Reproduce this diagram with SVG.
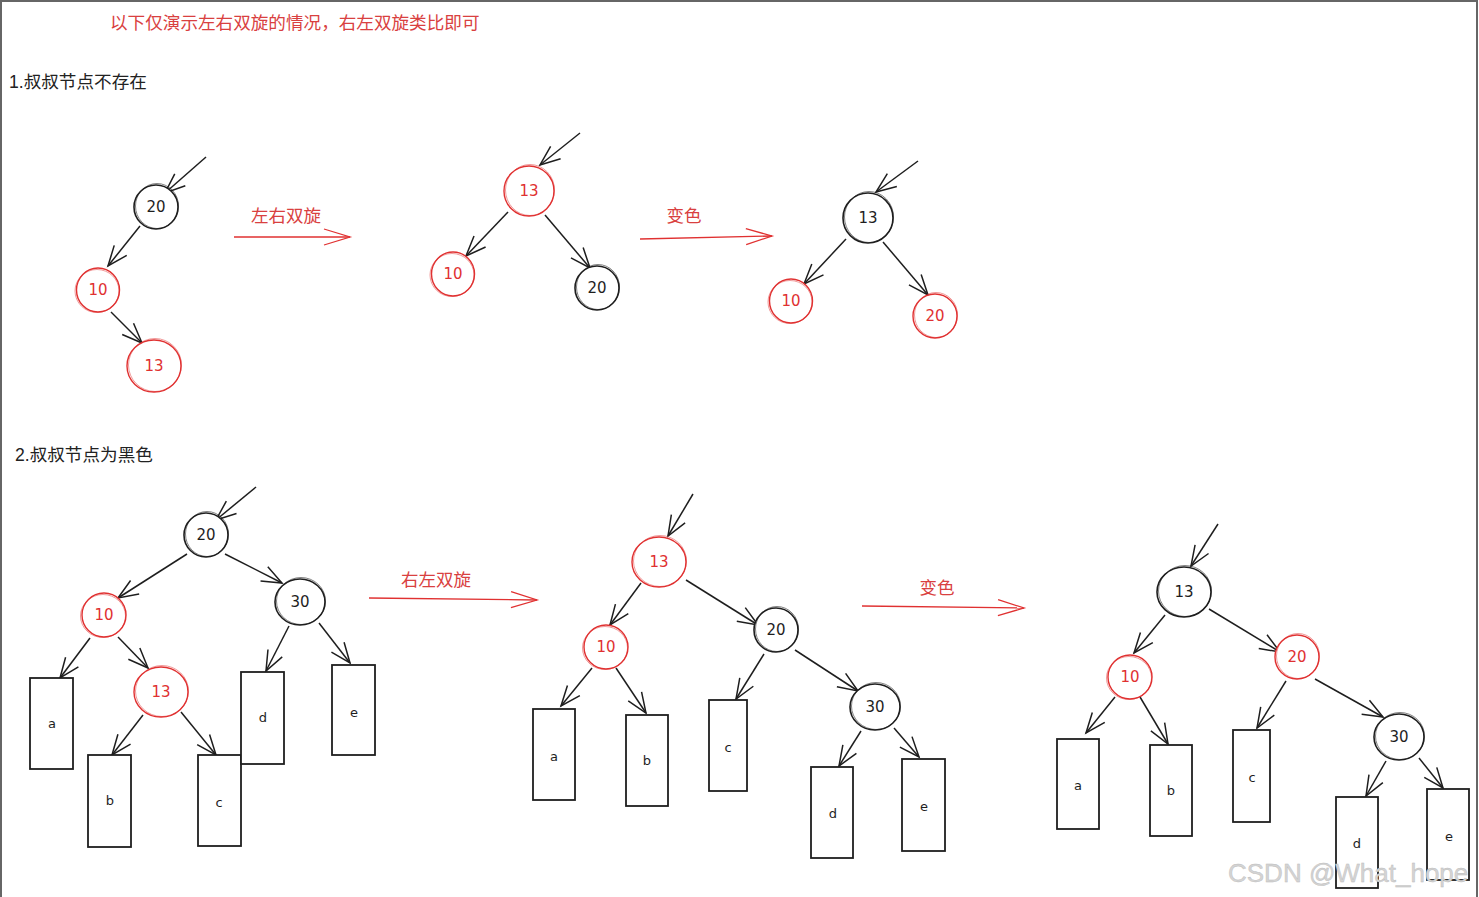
<svg xmlns="http://www.w3.org/2000/svg" width="1479" height="897" viewBox="0 0 1479 897">
<style>
.bg{fill:#ffffff}
.frame{fill:none;stroke:#666;stroke-width:2}
.title-red{font-family:"Liberation Sans","Noto Sans CJK SC",sans-serif;font-size:17.6px;fill:#d94040}
.title{font-family:"Liberation Sans","Noto Sans CJK SC",sans-serif;font-size:17.6px;fill:#222}
.lbl{font-family:"Liberation Sans","Noto Sans CJK SC",sans-serif;font-size:17.5px;fill:#d94040;text-anchor:middle}
.nb{fill:#fff;stroke:#1e1e1e;stroke-width:1.6}
.nb2{fill:none;stroke:#1e1e1e;stroke-width:0.8;opacity:.7}
.nr{fill:#fff;stroke:#e03131;stroke-width:1.4}
.nr2{fill:none;stroke:#e03131;stroke-width:0.7;opacity:.7}
.tb{font-family:"DejaVu Sans",sans-serif;font-size:15px;fill:#1e1e1e;text-anchor:middle;dominant-baseline:central}
.tr{font-family:"DejaVu Sans",sans-serif;font-size:15px;fill:#e03131;text-anchor:middle;dominant-baseline:central}
.box{fill:#fff;stroke:#1e1e1e;stroke-width:1.8}
.bt{font-family:"DejaVu Sans",sans-serif;font-size:13px;fill:#1e1e1e;text-anchor:middle;dominant-baseline:central}
.e{fill:none;stroke:#1e1e1e;stroke-width:1.5;marker-end:url(#ah)}
.re{fill:none;stroke:#e03131;stroke-width:1.3;marker-end:url(#rah)}
.wm{font-family:"Liberation Sans",sans-serif;font-size:26px;fill:#d4d4d4;stroke:#bbb;stroke-width:0.4}
</style>
<defs>
<marker id="ah" viewBox="-24 -12 28 24" refX="0" refY="0" markerWidth="28" markerHeight="24" markerUnits="userSpaceOnUse" orient="auto">
<path d="M-20,-8 L0,0 L-20,8" fill="none" stroke="#1e1e1e" stroke-width="1.5"/>
</marker>
<marker id="rah" viewBox="-30 -12 34 24" refX="0" refY="0" markerWidth="34" markerHeight="24" markerUnits="userSpaceOnUse" orient="auto">
<path d="M-26,-8 L0,0 L-26,8" fill="none" stroke="#e03131" stroke-width="1.3"/>
</marker>
</defs>
<rect class="bg" x="0" y="0" width="1479" height="897"/>
<path class="frame" d="M1,897 V1 H1477 V897"/>

<g id="titles">
<text class="title-red" x="110" y="29">以下仅演示左右双旋的情况，右左双旋类比即可</text>
<text class="title" x="9" y="88">1.叔叔节点不存在</text>
<text class="title" x="15" y="461">2.叔叔节点为黑色</text>
</g>

<g id="connectors">
<path class="e" d="M206,157 L165,193"/>
<path class="e" d="M140,226 L108,266"/>
<path class="e" d="M111,312 L142,343"/>
<path class="re" d="M234,237 L350,237"/>
<path class="e" d="M580,133 L540,165"/>
<path class="e" d="M508,212 L466,256"/>
<path class="e" d="M545,215 L590,268"/>
<path class="re" d="M640,239 L772,236"/>
<path class="e" d="M918,161 L876,192"/>
<path class="e" d="M846,239 L804,284"/>
<path class="e" d="M883,242 L928,295"/>
<path class="e" d="M256,487 L216,520"/>
<path class="e" d="M187,554 L118,598"/>
<path class="e" d="M225,554 L282,583"/>
<path class="e" d="M90,638 L60,678"/>
<path class="e" d="M118,637 L148,668"/>
<path class="e" d="M143,715 L112,755"/>
<path class="e" d="M181,712 L216,755"/>
<path class="e" d="M289,626 L266,671"/>
<path class="e" d="M319,623 L350,663"/>
<path class="re" d="M369,598 L537,600"/>
<path class="e" d="M693,494 L668,536"/>
<path class="e" d="M641,583 L610,625"/>
<path class="e" d="M686,580 L758,625"/>
<path class="e" d="M592,668 L561,706"/>
<path class="e" d="M616,668 L646,713"/>
<path class="e" d="M764,654 L736,699"/>
<path class="e" d="M795,650 L858,691"/>
<path class="e" d="M861,731 L839,766"/>
<path class="e" d="M894,728 L919,757"/>
<path class="re" d="M862,606 L1024,608"/>
<path class="e" d="M1218,524 L1191,566"/>
<path class="e" d="M1165,615 L1134,653"/>
<path class="e" d="M1209,609 L1280,652"/>
<path class="e" d="M1115,697 L1086,733"/>
<path class="e" d="M1140,697 L1168,744"/>
<path class="e" d="M1286,681 L1257,728"/>
<path class="e" d="M1315,679 L1383,717"/>
<path class="e" d="M1386,761 L1366,796"/>
<path class="e" d="M1419,758 L1443,788"/>
</g>

<g id="transition-labels">
<text class="lbl" x="286" y="222">左右双旋</text>
<text class="lbl" x="684" y="222">变色</text>
<text class="lbl" x="436" y="586">右左双旋</text>
<text class="lbl" x="937" y="594">变色</text>
</g>

<g id="A20"><ellipse class="nb" cx="156" cy="207" rx="22" ry="22"/><ellipse class="nb2" cx="157" cy="206" rx="21.5" ry="22.5"/><text class="tb" x="156" y="207">20</text></g>
<g id="A10"><ellipse class="nr" cx="98" cy="290" rx="21.5" ry="22"/><ellipse class="nr2" cx="97" cy="291" rx="22" ry="21.5"/><text class="tr" x="98" y="290">10</text></g>
<g id="A13"><ellipse class="nr" cx="154" cy="366" rx="27" ry="26"/><ellipse class="nr2" cx="155" cy="365" rx="26.5" ry="26.5"/><text class="tr" x="154" y="366">13</text></g>

<g id="B13"><ellipse class="nr" cx="529" cy="191" rx="25" ry="25"/><ellipse class="nr2" cx="530" cy="190" rx="24.5" ry="25.5"/><text class="tr" x="529" y="191">13</text></g>
<g id="B10"><ellipse class="nr" cx="453" cy="274" rx="21.5" ry="22"/><ellipse class="nr2" cx="452" cy="275" rx="22" ry="21.5"/><text class="tr" x="453" y="274">10</text></g>
<g id="B20"><ellipse class="nb" cx="597" cy="288" rx="22" ry="22"/><ellipse class="nb2" cx="598" cy="287" rx="21.5" ry="22.5"/><text class="tb" x="597" y="288">20</text></g>

<g id="C13"><ellipse class="nb" cx="868" cy="218" rx="25" ry="25"/><ellipse class="nb2" cx="869" cy="217" rx="24.5" ry="25.5"/><text class="tb" x="868" y="218">13</text></g>
<g id="C10"><ellipse class="nr" cx="791" cy="301" rx="21.5" ry="22"/><ellipse class="nr2" cx="790" cy="302" rx="22" ry="21.5"/><text class="tr" x="791" y="301">10</text></g>
<g id="C20"><ellipse class="nr" cx="935" cy="316" rx="22" ry="22"/><ellipse class="nr2" cx="936" cy="315" rx="21.5" ry="22.5"/><text class="tr" x="935" y="316">20</text></g>

<g id="D20"><ellipse class="nb" cx="206" cy="535" rx="22" ry="22"/><ellipse class="nb2" cx="207" cy="534" rx="21.5" ry="22.5"/><text class="tb" x="206" y="535">20</text></g>
<g id="D10"><ellipse class="nr" cx="104" cy="615" rx="22" ry="22"/><ellipse class="nr2" cx="103" cy="616" rx="22.5" ry="21.5"/><text class="tr" x="104" y="615">10</text></g>
<g id="D30"><ellipse class="nb" cx="300" cy="602" rx="25" ry="23"/><ellipse class="nb2" cx="301" cy="601" rx="24.5" ry="23.5"/><text class="tb" x="300" y="602">30</text></g>
<g id="D13"><ellipse class="nr" cx="161" cy="692" rx="27" ry="25"/><ellipse class="nr2" cx="162" cy="691" rx="26.5" ry="25.5"/><text class="tr" x="161" y="692">13</text></g>
<g id="Da"><rect class="box" x="30" y="678" width="43" height="91"/><text class="bt" x="52" y="723">a</text></g>
<g id="Db"><rect class="box" x="88" y="755" width="43" height="92"/><text class="bt" x="110" y="800">b</text></g>
<g id="Dc"><rect class="box" x="198" y="755" width="43" height="91"/><text class="bt" x="219" y="802">c</text></g>
<g id="Dd"><rect class="box" x="241" y="672" width="43" height="92"/><text class="bt" x="263" y="717">d</text></g>
<g id="De"><rect class="box" x="332" y="665" width="43" height="90"/><text class="bt" x="354" y="712">e</text></g>

<g id="E13"><ellipse class="nr" cx="659" cy="562" rx="27" ry="25"/><ellipse class="nr2" cx="660" cy="561" rx="26.5" ry="25.5"/><text class="tr" x="659" y="562">13</text></g>
<g id="E10"><ellipse class="nr" cx="606" cy="647" rx="22" ry="22"/><ellipse class="nr2" cx="605" cy="648" rx="22.5" ry="21.5"/><text class="tr" x="606" y="647">10</text></g>
<g id="E20"><ellipse class="nb" cx="776" cy="630" rx="22" ry="22"/><ellipse class="nb2" cx="777" cy="629" rx="21.5" ry="22.5"/><text class="tb" x="776" y="630">20</text></g>
<g id="E30"><ellipse class="nb" cx="875" cy="707" rx="25" ry="23"/><ellipse class="nb2" cx="876" cy="706" rx="24.5" ry="23.5"/><text class="tb" x="875" y="707">30</text></g>
<g id="Ea"><rect class="box" x="533" y="709" width="42" height="91"/><text class="bt" x="554" y="756">a</text></g>
<g id="Eb"><rect class="box" x="626" y="715" width="42" height="91"/><text class="bt" x="647" y="760">b</text></g>
<g id="Ec"><rect class="box" x="709" y="700" width="38" height="91"/><text class="bt" x="728" y="747">c</text></g>
<g id="Ed"><rect class="box" x="811" y="767" width="42" height="91"/><text class="bt" x="833" y="813">d</text></g>
<g id="Ee"><rect class="box" x="902" y="759" width="43" height="92"/><text class="bt" x="924" y="806">e</text></g>

<g id="F13"><ellipse class="nb" cx="1184" cy="592" rx="27" ry="25"/><ellipse class="nb2" cx="1185" cy="591" rx="26.5" ry="25.5"/><text class="tb" x="1184" y="592">13</text></g>
<g id="F10"><ellipse class="nr" cx="1130" cy="677" rx="22" ry="22"/><ellipse class="nr2" cx="1129" cy="678" rx="22.5" ry="21.5"/><text class="tr" x="1130" y="677">10</text></g>
<g id="F20"><ellipse class="nr" cx="1297" cy="657" rx="22" ry="22"/><ellipse class="nr2" cx="1298" cy="656" rx="21.5" ry="22.5"/><text class="tr" x="1297" y="657">20</text></g>
<g id="F30"><ellipse class="nb" cx="1399" cy="737" rx="25" ry="23"/><ellipse class="nb2" cx="1400" cy="736" rx="24.5" ry="23.5"/><text class="tb" x="1399" y="737">30</text></g>
<g id="Fa"><rect class="box" x="1057" y="739" width="42" height="90"/><text class="bt" x="1078" y="785">a</text></g>
<g id="Fb"><rect class="box" x="1150" y="745" width="42" height="91"/><text class="bt" x="1171" y="790">b</text></g>
<g id="Fc"><rect class="box" x="1233" y="730" width="37" height="92"/><text class="bt" x="1252" y="777">c</text></g>
<g id="Fd"><rect class="box" x="1336" y="797" width="42" height="91"/><text class="bt" x="1357" y="843">d</text></g>
<g id="Fe"><rect class="box" x="1427" y="789" width="42" height="91"/><text class="bt" x="1449" y="836">e</text></g>

<text class="wm" x="1228" y="882">CSDN @What_hope</text>
</svg>
